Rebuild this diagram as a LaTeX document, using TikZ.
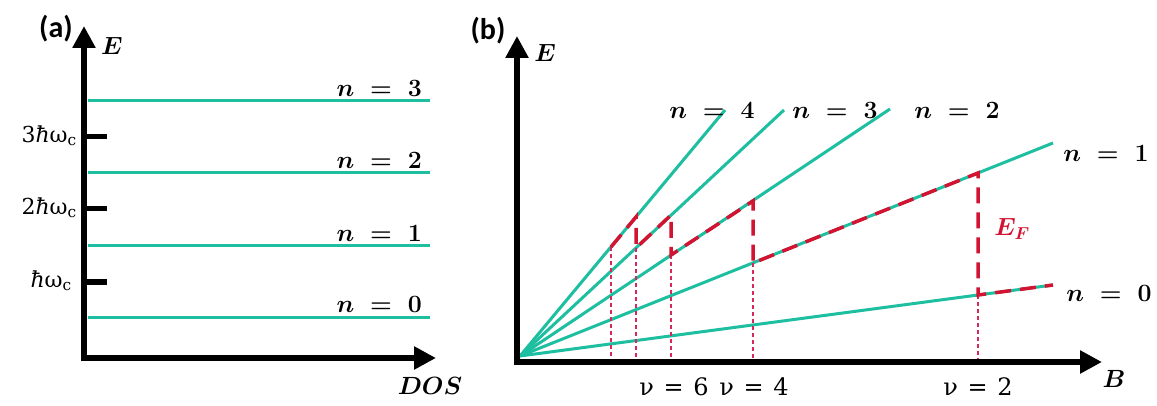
\documentclass[tikz,border=0pt]{standalone}
\usepackage{fontspec}
\newfontfamily\dvs{DejaVu Serif}
\newfontfamily\panelfont{Carlito}
\usetikzlibrary{arrows.meta}
\definecolor{lvl}{RGB}{30,190,160}
\definecolor{ef}{RGB}{210,20,50}
\definecolor{guidecol}{RGB}{215,40,90}
\tikzset{
  axisline/.style={line width=6pt, line join=miter,
    {Triangle[length=22pt,width=22pt]}-{Triangle[length=22pt,width=22pt]}},
  lvlline/.style={draw=lvl, line width=3pt},
  tickmark/.style={line width=5pt},
  fermi/.style={draw=ef, line width=3.5pt, dash pattern=on 16pt off 9pt},
  guide/.style={draw=guidecol, line width=1.2pt, dash pattern=on 4pt off 3pt},
  lab/.style={font=\fontsize{24}{28}\selectfont\boldmath, inner sep=0pt},
  ticklab/.style={font=\dvs\fontsize{22}{26}\selectfont, inner sep=0pt, anchor=south east},
  panel/.style={font=\panelfont\bfseries\fontsize{30}{34}\selectfont, inner sep=0pt},
  nulab/.style={font=\dvs\fontsize{24}{28}\selectfont, inner sep=0pt},
}
\begin{document}
\begin{tikzpicture}[x=1pt,y=-1pt]
\useasboundingbox (0,0) rectangle (1157,406);
% ---------------- panel (a)
\coordinate (aO) at (84,358);
\coordinate (aY) at (84,26);
\coordinate (aX) at (436,358);
\draw[axisline] (aY) -- (aO) -- (aX);
\coordinate (aL0) at (88,317);
\coordinate (aR0) at (430,317);
\coordinate (aL1) at (88,246);
\coordinate (aR1) at (430,246);
\coordinate (aL2) at (88,173);
\coordinate (aR2) at (430,173);
\coordinate (aL3) at (88,101);
\coordinate (aR3) at (430,101);
\draw[lvlline] (aL0) -- (aR0);
\draw[lvlline] (aL1) -- (aR1);
\draw[lvlline] (aL2) -- (aR2);
\draw[lvlline] (aL3) -- (aR3);
\node[lab, anchor=south east] (an0) at (422,313) {$n\;=\;0$};
\node[lab, anchor=south east] (an1) at (422,242) {$n\;=\;1$};
\node[lab, anchor=south east] (an2) at (422,169) {$n\;=\;2$};
\node[lab, anchor=south east] (an3) at (422,97) {$n\;=\;3$};
\coordinate (tA1) at (84,282);
\coordinate (tB1) at (107,282);
\coordinate (tA2) at (84,209);
\coordinate (tB2) at (107,209);
\coordinate (tA3) at (84,137);
\coordinate (tB3) at (107,137);
\draw[tickmark] (tA1) -- (tB1);
\draw[tickmark] (tA2) -- (tB2);
\draw[tickmark] (tA3) -- (tB3);
\node[ticklab] (tl1) at (72,291) {\textit{ħ}ω\textsubscript{c}};
\node[ticklab] (tl2) at (77,218) {2\textit{ħ}ω\textsubscript{c}};
\node[ticklab] (tl3) at (77,146) {3\textit{ħ}ω\textsubscript{c}};
\node[panel] (pa) at (56,29) {(a)};
\node[lab] (aE) at (112,46) {$E$};
\node[lab] (aDOS) at (430,386) {$DOS$};
% ---------------- panel (b)
\coordinate (bO) at (517,362);
\coordinate (bY) at (517,36);
\coordinate (bX) at (1102,362);
\coordinate (bS) at (520,356);
\coordinate (e0) at (1053,285);
\coordinate (e1) at (1053,143);
\coordinate (e2) at (890,109);
\coordinate (e3) at (784,110);
\coordinate (e4) at (725,110);
\draw[lvlline] (bS) -- (e0);
\draw[lvlline] (bS) -- (e1);
\draw[lvlline] (bS) -- (e2);
\draw[lvlline] (bS) -- (e3);
\draw[lvlline] (bS) -- (e4);
% Fermi energy path
\coordinate (P1) at (611,247);
\coordinate (P2) at (636,217);
\coordinate (P3) at (636,248);
\coordinate (P4) at (671,215);
\coordinate (P5) at (671,255);
\coordinate (P6) at (753,201);
\coordinate (P7) at (753,263);
\coordinate (P8) at (978,173);
\coordinate (P9) at (978,295);
\coordinate (P10) at (1053,285);
\coordinate (G1) at (611,359);
\coordinate (G3) at (636,359);
\coordinate (G5) at (671,359);
\coordinate (G7) at (753,359);
\coordinate (G9) at (978,359);
\draw[guide] (P1) -- (G1);
\draw[guide] (P3) -- (G3);
\draw[guide] (P5) -- (G5);
\draw[guide] (P7) -- (G7);
\draw[guide] (P9) -- (G9);
\draw[fermi] (P1) -- (P2) -- (P3) -- (P4) -- (P5) -- (P6) -- (P7) -- (P8) -- (P9) -- (P10);
\draw[axisline] (bY) -- (bO) -- (bX);
\node[panel] (pb) at (488,31) {(b)};
\node[lab] (bE) at (545,53) {$E$};
\node[lab] (bB) at (1114,379) {$B$};
\node[lab] (bn4) at (712,110) {$n\;=\;4$};
\node[lab] (bn3) at (835,110) {$n\;=\;3$};
\node[lab] (bn2) at (957,110) {$n\;=\;2$};
\node[lab] (bn1) at (1106,153) {$n\;=\;1$};
\node[lab] (bn0) at (1109,293) {$n\;=\;0$};
\node[lab, text=ef] (EF) at (1012,229) {$E_F$};
\node[nulab] (nu6) at (674,387) {ν\hspace{.4em}=\hspace{.4em}6};
\node[nulab] (nu4) at (754,387) {ν\hspace{.4em}=\hspace{.4em}4};
\node[nulab] (nu2) at (978,387) {ν\hspace{.4em}=\hspace{.4em}2};
\end{tikzpicture}
\end{document}
